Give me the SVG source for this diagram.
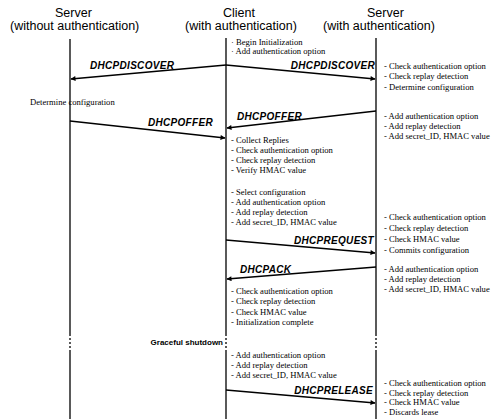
<svg xmlns="http://www.w3.org/2000/svg" width="503" height="419" viewBox="0 0 503 419">
<defs>
<style>
.hdr{font-family:"Liberation Sans",Arial,sans-serif;font-size:12.5px;fill:#000}
.note{font-family:"Liberation Serif","Times New Roman",serif;font-size:8.6px;fill:#000}
.msg{font-family:"Liberation Sans",Arial,sans-serif;font-size:10px;font-weight:bold;font-style:italic;fill:#000;letter-spacing:0.3px}
.gs{font-family:"Liberation Sans",Arial,sans-serif;font-size:8px;font-weight:bold;fill:#000}
.life{stroke:#000;stroke-width:1.3;fill:none}
.dash{stroke:#000;stroke-width:1.3;fill:none;stroke-dasharray:2 2}
.arr{stroke:#000;stroke-width:1.5;fill:none;marker-end:url(#ah)}
</style>
<marker id="ah" viewBox="0 0 10 10" refX="9" refY="5" markerWidth="6" markerHeight="5" orient="auto" markerUnits="userSpaceOnUse">
<path d="M0,0 L10,5 L0,10 z" fill="#000"/>
</marker>
</defs>
<rect width="503" height="419" fill="#fff"/>

<g id="server-noauth">
<text class="hdr" x="55" y="17">Server</text>
<text class="hdr" x="10" y="30">(without authentication)</text>
<line class="life" x1="70" y1="39" x2="70" y2="334"/>
<line class="dash" x1="70" y1="334" x2="70" y2="352"/>
<line class="life" x1="70" y1="352" x2="70" y2="419"/>
<text class="note" x="30" y="105">Determine configuration</text>
</g>

<g id="client">
<text class="hdr" x="223" y="17">Client</text>
<text class="hdr" x="185" y="30">(with authentication)</text>
<line class="life" x1="226" y1="38" x2="226" y2="334"/>
<line class="dash" x1="226" y1="334" x2="226" y2="352"/>
<line class="life" x1="226" y1="352" x2="226" y2="419"/>
<g class="note">
<text x="231" y="45">· Begin Initialization</text>
<text x="231" y="54">· Add authentication option</text>
<text x="231" y="143">- Collect Replies</text>
<text x="231" y="153">- Check authentication option</text>
<text x="231" y="163">- Check replay detection</text>
<text x="231" y="173">- Verify HMAC value</text>
<text x="231" y="195">- Select configuration</text>
<text x="231" y="205">- Add authentication option</text>
<text x="231" y="215">- Add replay detection</text>
<text x="231" y="225">- Add secret_ID, HMAC value</text>
<text x="231" y="294">- Check authentication option</text>
<text x="231" y="304">- Check replay detection</text>
<text x="231" y="315">- Check HMAC value</text>
<text x="231" y="325">- Initialization complete</text>
<text x="231" y="358">- Add authentication option</text>
<text x="231" y="368">- Add replay detection</text>
<text x="231" y="378">- Add secret_ID, HMAC value</text>
</g>
<text class="gs" x="223" y="345" text-anchor="end">Graceful shutdown</text>
</g>

<g id="server-auth">
<text class="hdr" x="367" y="17">Server</text>
<text class="hdr" x="323" y="30">(with authentication)</text>
<line class="life" x1="376" y1="38" x2="376" y2="334"/>
<line class="dash" x1="376" y1="334" x2="376" y2="352"/>
<line class="life" x1="376" y1="352" x2="376" y2="419"/>
<g class="note">
<text x="384" y="69">- Check authentication option</text>
<text x="384" y="79">- Check replay detection</text>
<text x="384" y="90">- Determine configuration</text>
<text x="384" y="119">- Add authentication option</text>
<text x="384" y="129">- Add replay detection</text>
<text x="384" y="139">- Add secret_ID, HMAC value</text>
<text x="384" y="220">- Check authentication option</text>
<text x="384" y="231">- Check replay detection</text>
<text x="384" y="242">- Check HMAC value</text>
<text x="384" y="253">- Commits configuration</text>
<text x="384" y="272">- Add authentication option</text>
<text x="384" y="282">- Add replay detection</text>
<text x="384" y="292">- Add secret_ID, HMAC value</text>
<text x="384" y="386">- Check authentication option</text>
<text x="384" y="396">- Check replay detection</text>
<text x="384" y="405">- Check HMAC value</text>
<text x="384" y="415">- Discards lease</text>
</g>
</g>

<g id="connectors">
<line class="arr" x1="226" y1="65" x2="71" y2="79"/>
<text class="msg" x="90" y="69">DHCPDISCOVER</text>
<line class="arr" x1="226" y1="65" x2="375" y2="79"/>
<text class="msg" x="375" y="69" text-anchor="end">DHCPDISCOVER</text>
<line class="arr" x1="70" y1="121" x2="225" y2="138"/>
<text class="msg" x="148" y="126">DHCPOFFER</text>
<line class="arr" x1="376" y1="111" x2="227" y2="128"/>
<text class="msg" x="237" y="120">DHCPOFFER</text>
<line class="arr" x1="226" y1="240" x2="375" y2="253"/>
<text class="msg" x="374" y="244" text-anchor="end">DHCPREQUEST</text>
<line class="arr" x1="376" y1="267" x2="227" y2="279"/>
<text class="msg" x="240" y="273">DHCPACK</text>
<line class="arr" x1="226" y1="390" x2="375" y2="403"/>
<text class="msg" x="373" y="394" text-anchor="end">DHCPRELEASE</text>
</g>
</svg>
